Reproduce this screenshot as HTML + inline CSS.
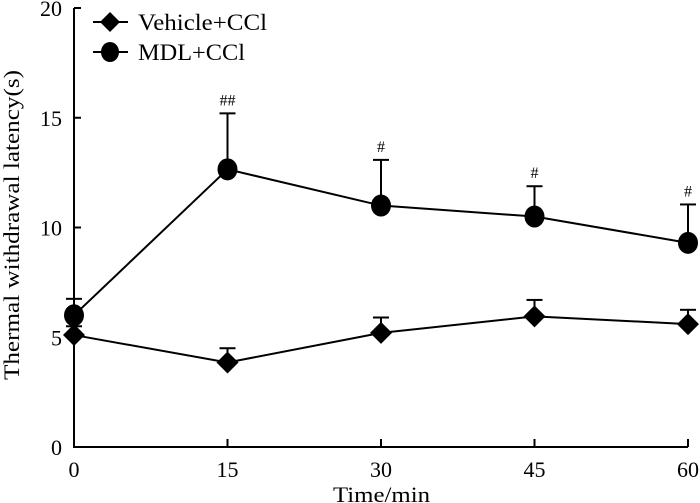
<!DOCTYPE html>
<html><head><meta charset="utf-8"><style>
html,body{margin:0;padding:0;background:#fff}
svg{display:block}
text{font-family:"Liberation Serif",serif;fill:#000}
</style></head><body>
<svg id="chart" width="700" height="503"></svg>
<script>
const times=[0,15,30,45,60];
const vehicleMean=[5.1,3.85,5.2,5.95,5.6];
const vehicleErr=[0.4,0.65,0.7,0.75,0.65];
const mdlMean=[6.0,12.65,11.0,10.5,9.3];
const mdlErr=[0.75,2.55,2.08,1.38,1.75];
const mdlMarks=["","##","#","#","#"];
const yTicks=[0,5,10,15,20];
const xTicks=[0,15,30,45,60];

const NS="http://www.w3.org/2000/svg";
const svg=document.getElementById('chart');
const X0=74,X1=688,Y0=447,Y1=8;
function x(t){return X0+(t-0)/(60-0)*(X1-X0);}
function y(v){return Y0-(v-0)/(20-0)*(Y0-Y1);}
function mk(tag,attrs,parent){const e=document.createElementNS(NS,tag);for(const k in attrs)e.setAttribute(k,attrs[k]);(parent||svg).appendChild(e);return e;}

const axes=mk('g',{});


mk('path',{d:`M${X0},${Y1}V${Y0}H${X1}`,stroke:'#000','stroke-width':2,fill:'none'},axes);
yTicks.forEach(v=>{
  mk('line',{x1:X0,x2:X0+7,y1:y(v),y2:y(v),stroke:'#000','stroke-width':2},axes);
  const t=mk('text',{x:X0-12,y:y(v)+8,'text-anchor':'end','font-size':22},axes);
  t.textContent=v;
  
  
});
xTicks.forEach(v=>{
  mk('line',{x1:x(v),x2:x(v),y1:Y0,y2:Y0-8,stroke:'#000','stroke-width':2},axes);
  const t=mk('text',{x:x(v),y:477,'text-anchor':'middle','font-size':22},axes);
  t.textContent=v;
  
  
});
const xt=mk('text',{x:333,y:502,'font-size':22,textLength:97,lengthAdjust:'spacingAndGlyphs'});
xt.textContent='Time/min';


const yt=mk('text',{x:-155,y:0,'font-size':22,textLength:310,lengthAdjust:'spacingAndGlyphs',transform:'translate(19,225) rotate(-90)'});
yt.textContent='Thermal withdrawal latency(s)';



function diamond(cx,cy,r,p){return mk('path',{d:`M${cx},${cy-r}L${cx+r},${cy}L${cx},${cy+r}L${cx-r},${cy}Z`,fill:'#000'},p);}

function series(mean,err,name,shape){
  const g=mk('g',{});
  
  
  mean.forEach((v,i)=>{
    mk('line',{x1:x(times[i]),x2:x(times[i]),y1:y(v),y2:y(v+err[i]),stroke:'#000','stroke-width':2},g);
    mk('line',{x1:x(times[i])-8,x2:x(times[i])+8,y1:y(v+err[i]),y2:y(v+err[i]),stroke:'#000','stroke-width':2},g);
  });
  mk('polyline',{points:mean.map((v,i)=>x(times[i])+','+y(v)).join(' '),fill:'none',stroke:'#000','stroke-width':2},g);
  mean.forEach((v,i)=>{
    let m;
    if(shape==='d') m=diamond(x(times[i]),y(v),11,g);
    else m=mk('ellipse',{cx:x(times[i]),cy:y(v),rx:10,ry:11,fill:'#000'},g);
    
    
  });
  return g;
}
series(vehicleMean,vehicleErr,'vehicle-series','d');
series(mdlMean,mdlErr,'mdl-series','c');
mdlMarks.forEach((s,i)=>{
  if(!s)return;
  const t=mk('text',{x:x(times[i]),y:y(mdlMean[i]+mdlErr[i])-8,'text-anchor':'middle','font-size':16});
  t.textContent=s;
  
  
});

const lg=mk('g',{});


mk('line',{x1:93,x2:128,y1:22,y2:22,stroke:'#000','stroke-width':2},lg);
diamond(110,22,10,lg);
const l1=mk('text',{x:138,y:30,'font-size':23,textLength:129,lengthAdjust:'spacingAndGlyphs'},lg);
l1.textContent='Vehicle+CCl';


mk('line',{x1:93,x2:128,y1:52,y2:52,stroke:'#000','stroke-width':2},lg);
mk('ellipse',{cx:110,cy:52,rx:9,ry:10,fill:'#000'},lg);
const l2=mk('text',{x:138,y:60,'font-size':23,textLength:107,lengthAdjust:'spacingAndGlyphs'},lg);
l2.textContent='MDL+CCl';


</script>
</body></html>
